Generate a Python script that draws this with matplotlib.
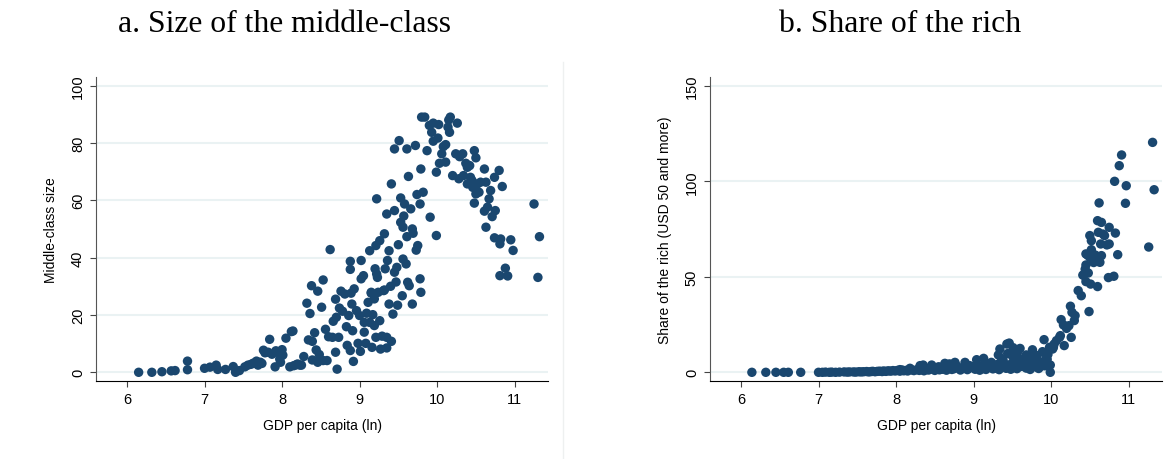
#!/usr/bin/env python3
"""Middle-class size and share of the rich against GDP per capita (ln)."""

import matplotlib.pyplot as plt
from matplotlib.lines import Line2D

# panel a: GDP per capita (ln) vs middle-class size
mid_gdp = [
    6.15, 6.32, 6.45, 6.57, 6.62, 6.78, 6.78, 7.00, 7.07, 7.15, 7.17, 7.27,
    7.37, 7.40, 7.45, 7.52, 7.56, 7.60, 7.63, 7.67, 7.69, 7.72, 7.74, 7.76,
    7.78, 7.82, 7.84, 7.87, 7.91, 7.92, 7.95, 7.97, 7.98, 8.00, 8.01, 8.05,
    8.10, 8.12, 8.14, 8.15, 8.18, 8.20, 8.23,
    8.25, 8.28, 8.32, 8.34, 8.39, 8.38, 8.39, 8.42, 8.44, 8.46, 8.46, 8.51,
    8.53, 8.53, 8.56, 8.58, 8.60, 8.62, 8.65, 8.69, 8.69, 8.70, 8.71, 8.73,
    8.74, 8.76, 8.78, 8.81, 8.83, 8.86, 8.88, 8.88, 8.88, 8.89, 8.90, 8.91,
    8.92, 8.93, 8.98, 9.00, 9.01, 9.02, 9.02, 9.05, 9.06, 9.08, 9.11, 9.13,
    9.13, 9.15, 9.15, 9.16, 9.17, 9.19, 9.20, 9.19, 9.21, 9.22, 9.21, 9.23,
    9.26, 9.26, 9.27, 9.22, 9.31, 9.32, 9.33, 9.32, 9.35, 9.35, 9.35, 9.36,
    9.38, 9.41, 9.38, 9.41, 9.43, 9.45, 9.45, 9.45, 9.48, 9.49, 9.50, 9.51,
    9.53, 9.53, 9.55, 9.56, 9.56, 9.58, 9.60, 9.61, 9.61, 9.62, 9.63, 9.64,
    9.66, 9.68, 9.68, 9.69, 9.72, 9.73, 9.74, 9.75, 9.78, 9.79, 9.78, 9.79,
    9.80, 9.82, 9.84, 9.87, 9.91, 9.90, 9.93, 9.95, 9.95, 9.99, 9.99, 10.01,
    10.02, 10.03, 10.06, 10.08, 10.11, 10.11, 10.14, 10.15, 10.17, 10.16,
    10.20, 10.24, 10.26, 10.28, 10.29, 10.33, 10.34, 10.37, 10.39, 10.39,
    10.42, 10.43, 10.45, 10.46, 10.48, 10.48, 10.50, 10.52, 10.50, 10.54,
    10.56, 10.61, 10.61, 10.63, 10.63, 10.65, 10.67, 10.69, 10.71, 10.74,
    10.75, 10.74, 10.80, 10.82, 10.81, 10.84, 10.81, 10.88, 10.91, 10.95,
    10.98, 11.25, 11.32, 11.30,
    9.06, 9.09, 9.24, 9.29, 8.96, 8.84, 8.66, 8.48, 8.36, 9.40, 9.47, 9.57,
]
mid_size = [
    0.0, 0.0, 0.2, 0.5, 0.6, 0.9, 3.9, 1.4, 1.8, 2.5, 1.0, 1.0,
    2.0, 0.0, 0.6, 1.9, 2.5, 2.8, 3.2, 3.9, 2.5, 3.5, 3.1, 7.7,
    6.8, 7.0, 11.5, 6.3, 1.9, 7.5, 7.0, 4.6, 3.5, 7.9, 6.0, 11.9,
    1.9, 14.2, 14.4, 2.3, 2.6, 2.9, 2.5,
    2.5, 5.5, 24.1, 11.3, 10.8, 30.2, 4.3, 13.8, 7.8, 28.3, 3.5, 22.7,
    32.2, 4.1, 15.0, 4.1, 12.4, 42.8, 12.2, 25.5, 7.0, 19.2, 1.1, 12.2,
    22.4, 28.3, 21.3, 27.3, 15.9, 19.8, 38.7, 35.9, 7.6, 27.6, 23.8, 14.5,
    3.8, 29.1, 10.1, 19.8, 7.3, 39.0, 32.6, 33.7, 14.0, 10.1, 24.4, 42.4,
    17.4, 27.6, 27.9, 8.7, 20.1, 16.3, 36.1, 25.6, 44.2, 34.3, 12.2, 33.1,
    45.9, 18.0, 8.1, 60.5, 28.5, 48.3, 36.1, 28.7, 55.2, 8.5, 12.2, 39.0,
    23.8, 65.7, 42.4, 10.8, 20.3, 56.4, 34.9, 77.9, 36.6, 23.4, 44.5, 80.8,
    60.8, 52.3, 26.7, 39.5, 50.6, 58.7, 37.8, 47.3, 77.9, 31.4, 68.3, 30.2,
    57.0, 23.8, 50.0, 48.5, 79.1, 42.6, 62.0, 44.2, 32.6, 70.9, 58.7, 27.9,
    89.0, 62.8, 89.0, 77.3, 54.1, 86.1, 83.7, 86.9, 80.6, 47.7, 69.8, 81.7,
    86.4, 72.9, 76.2, 78.7, 73.3, 79.4, 85.5, 88.0, 89.0, 83.7,
    68.6, 76.2, 86.9, 67.5, 75.2, 76.2, 68.6, 72.9, 65.7, 71.5,
    72.1, 68.0, 66.9, 64.5, 77.3, 59.0, 74.8, 65.7, 62.2, 62.8,
    66.3, 70.9, 56.2, 66.3, 50.6, 57.6, 60.5, 63.4, 54.3, 68.0,
    56.4, 46.9, 70.4, 46.5, 44.8, 64.8, 33.7, 36.3, 33.6, 46.2,
    42.5, 58.7, 47.3, 33.1,
    17.4, 20.6, 27.9, 12.6, 21.5, 9.4, 17.8, 6.2, 20.5, 30.0, 31.5, 54.5,
]

# panel b: GDP per capita (ln) vs share of the rich
rich_gdp = [
    6.14, 6.32, 6.45, 6.55, 6.61, 6.77,
    7.00, 7.05, 7.09, 7.14, 7.17, 7.22, 7.27, 7.33, 7.37, 7.40, 7.45, 7.48,
    7.52, 7.55, 7.58, 7.62, 7.65, 7.68, 7.70, 7.73, 7.76, 7.79, 7.82, 7.84,
    7.87, 7.90, 7.93, 7.96, 7.99, 8.02, 8.05, 8.08, 8.10, 8.13, 8.15, 8.20,
    8.23, 8.27, 8.30, 8.33, 8.36, 8.40, 8.42, 8.45, 8.50, 8.52, 8.56, 8.60,
    8.62, 8.65, 8.70, 8.72, 8.75, 8.80, 8.83, 8.86, 8.90, 8.92, 8.95, 9.00,
    9.02, 9.05, 9.08, 9.10, 9.13, 9.16, 9.20, 9.22, 9.25, 9.28, 9.30, 9.33,
    9.36, 9.40, 9.42, 9.45, 9.48, 9.50, 9.53, 9.56, 9.60, 9.62, 9.65, 9.68,
    9.70, 9.73, 9.76, 9.80, 9.84, 9.88, 9.92, 9.95,
    8.05, 8.18, 8.31, 8.35, 8.46, 8.63, 8.69, 8.76, 8.89, 8.95, 9.04, 9.13,
    9.23, 9.32, 9.34, 9.36, 9.43, 9.46, 9.49, 9.51, 9.53, 9.57, 9.60, 9.66,
    9.68, 9.76, 9.78, 9.83, 9.85, 9.89, 9.91, 9.96, 9.98, 9.99, 9.99,
    10.02, 10.04, 10.07, 10.03, 10.12, 10.13, 10.16, 10.17, 10.20, 10.26,
    10.25, 10.27, 10.31, 10.30, 10.35, 10.39, 10.42, 10.45, 10.48, 10.49,
    10.45, 10.51, 10.60, 10.74, 10.81, 10.45, 10.50, 10.47, 10.57, 10.65,
    10.86, 10.63, 10.52, 10.52, 10.64, 10.72, 10.75, 11.26, 10.50, 10.61,
    10.67, 10.69, 10.60, 10.65, 10.75, 10.83, 10.62, 10.96, 10.82, 10.97,
    11.33, 10.88, 10.91, 11.31, 10.44, 10.41, 10.55, 10.23, 10.11,
    9.38, 9.44, 9.52, 9.58, 9.64, 9.72, 9.82, 9.87, 9.93, 8.55, 8.78, 9.18,
]
rich_share = [
    0.0, 0.0, 0.0, 0.0, 0.0, 0.0,
    0.0, 0.0, 0.1, 0.0, 0.1, 0.0, 0.1, 0.2, 0.1, 0.2, 0.2, 0.1,
    0.3, 0.2, 0.3, 0.4, 0.2, 0.4, 0.5, 0.3, 0.5, 0.6, 0.4, 0.7,
    0.5, 0.8, 0.6, 0.9, 0.7, 1.0, 0.6, 1.2, 0.8, 1.0, 0.7, 1.3,
    0.9, 1.4, 1.0, 1.6, 0.8, 1.5, 1.2, 1.8, 1.0, 2.0, 1.3, 1.6,
    2.2, 1.1, 2.4, 1.5, 1.9, 2.6, 1.2, 2.0, 2.8, 1.4, 2.3, 3.0,
    1.6, 2.5, 1.1, 3.2, 2.0, 1.5, 2.8, 3.5, 1.8, 2.2, 4.0, 1.4,
    3.0, 4.4, 2.1, 3.6, 1.6, 5.0, 2.6, 1.9, 4.2, 3.1, 5.6, 2.2,
    3.8, 1.5, 6.2, 2.9, 2.0, 4.6, 3.4, 6.8,
    1.4, 2.1, 3.5, 3.8, 3.8, 4.7, 4.4, 5.2, 5.2, 3.5, 6.6, 7.3,
    5.2, 9.1, 12.2, 7.0, 14.8, 15.3, 9.1, 12.9, 7.8, 10.8, 12.5, 7.0,
    9.1, 11.8, 8.4, 5.6, 4.4, 10.8, 17.1, 9.4, 13.1, 3.8, 0.0,
    12.2, 14.8, 16.6, 13.1, 19.2, 27.6, 24.8, 14.0, 23.0, 18.3,
    34.6, 31.4, 29.7, 27.1, 42.8, 40.1, 50.9, 47.5, 52.0, 31.8,
    56.2, 46.2, 44.9, 49.6, 50.3, 62.0, 60.2, 61.4, 61.4, 61.1,
    61.6, 57.6, 68.9, 64.2, 67.2, 66.7, 67.2, 65.6, 71.6, 73.3,
    72.4, 71.6, 79.4, 78.5, 75.9, 72.9, 88.7, 88.5, 100.0, 97.7,
    95.6, 108.2, 113.8, 120.4, 54.0, 50.9, 57.5, 24.4, 18.3,
    6.5, 9.8, 4.6, 7.5, 3.9, 5.3, 8.8, 3.2, 6.9, 2.9, 3.4, 4.1,
]

navy = '#1a476f'
grid_color = '#eaf2f3'

plt.rcParams['font.family'] = ['Liberation Sans', 'DejaVu Sans']

fig = plt.figure(figsize=(11.68, 4.6), dpi=100)
ax_a = fig.add_axes([0.0822, 0.1689, 0.3873, 0.661])
ax_b = fig.add_axes([0.6079, 0.1689, 0.3872, 0.661])

panels = [
    (ax_a, mid_gdp, mid_size, 'Middle-class size', [0, 20, 40, 60, 80, 100], (-3.14, 102.9)),
    (ax_b, rich_gdp, rich_share, 'Share of the rich (USD 50 and more)', [0, 50, 100, 150], (-4.71, 154.5)),
]

for ax, xs, ys, ylabel, yticks, ylim in panels:
    ax.scatter(xs, ys, s=46, color=navy, edgecolors='none', zorder=3)
    ax.set_xlim(5.6, 11.435)
    ax.set_ylim(*ylim)
    ax.set_xticks([6, 7, 8, 9, 10, 11])
    ax.set_yticks(yticks)
    ax.yaxis.grid(True, color=grid_color, linewidth=1.5, zorder=0)
    ax.set_axisbelow(True)
    for side in ['top', 'right']:
        ax.spines[side].set_visible(False)
    ax.spines['left'].set_color('#555555')
    ax.spines['bottom'].set_color('black')
    ax.tick_params(axis='both', labelsize=10.5, length=4, width=0.8, pad=4, color='#444444')
    for lab in ax.get_yticklabels():
        lab.set_rotation(90)
        lab.set_va('center')
    ax.set_xlabel('GDP per capita (ln)', fontsize=10, labelpad=8)
    ax.set_ylabel(ylabel, fontsize=10, labelpad=9)

fig.text(0.244, 0.946, 'a. Size of the middle-class', ha='center', va='center',
         fontsize=22.8, family=['Liberation Serif', 'DejaVu Serif'])
fig.text(0.771, 0.946, 'b. Share of the rich', ha='center', va='center',
         fontsize=22.8, family=['Liberation Serif', 'DejaVu Serif'])

# faint border between the two sub-graphs
fig.add_artist(Line2D([563 / 1168, 563 / 1168], [0, 1 - 63 / 460],
                      transform=fig.transFigure, color='#eef0f0', linewidth=1))

fig.savefig('out.png', dpi=100)
plt.close()
